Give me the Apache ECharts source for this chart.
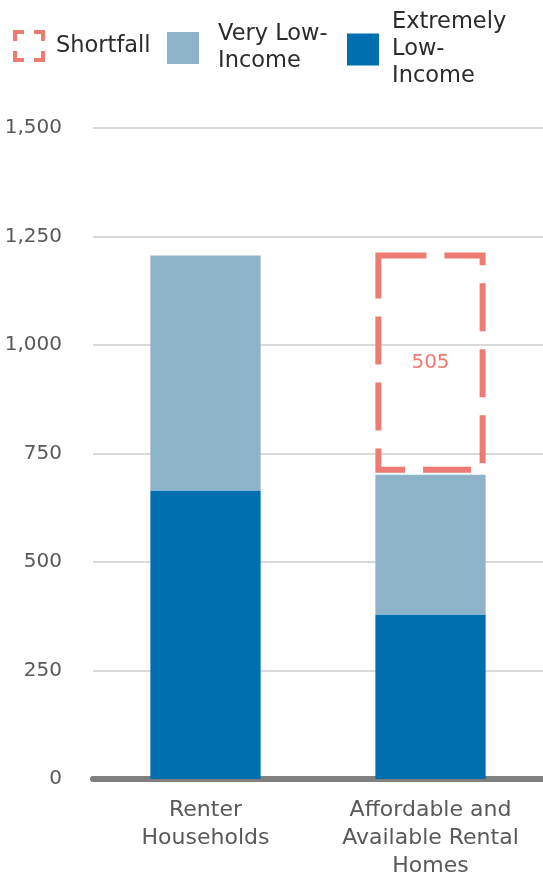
<!DOCTYPE html>
<html><head><meta charset="utf-8">
<script src="https://cdn.jsdelivr.net/npm/echarts@6/dist/echarts.min.js"></script>
<style>html,body{margin:0;padding:0;background:#fff}#c{width:543px;height:876px}</style>
</head><body><div id="c"></div>
<script>
const categories = ['Renter\nHouseholds', 'Affordable and\nAvailable Rental\nHomes'];
const extremelyLow = [665, 379];
const veryLow = [541, 322];
const shortfall = 505;
const shortfallLabel = '505';
const yTicks = [0, 250, 500, 750, 1000, 1250, 1500];

const FONT = 'DejaVu Sans';
const RED = '#ee7b72';
const shortStart = extremelyLow[1] + veryLow[1];
const shortEnd = shortStart + shortfall;

const chart = echarts.init(document.getElementById('c'), null, {renderer: 'canvas'});
const bracketIcon = 'path://M0,0H11V4H4V11H0Z M21,0H32V11H28V4H21Z M32,21V32H21V28H28V21Z M0,21H4V28H11V32H0Z';

function lt(padLeft) {
  return {fontFamily: FONT, fontSize: 22.5, color: '#2b2b2b', lineHeight: 27, padding: [0, 0, 0, padLeft]};
}
chart.setOption({
  animation: false,
  textStyle: {fontFamily: FONT},
  legend: [
    {left: 13, top: 30, padding: 0, itemWidth: 32, itemHeight: 32, textStyle: lt(6),
     data: [{name: 'Shortfall', icon: bracketIcon, itemStyle: {color: RED, borderWidth: 0}}]},
    {left: 167, top: 21, padding: 0, itemWidth: 32, itemHeight: 32, textStyle: lt(14),
     data: [{name: 'Very Low-\nIncome', icon: 'rect'}]},
    {left: 347, top: 9, padding: 0, itemWidth: 32, itemHeight: 32, textStyle: lt(8),
     data: [{name: 'Extremely\nLow-\nIncome', icon: 'rect'}]}
  ],
  grid: {left: 93, right: 0, top: 128, bottom: 97, containLabel: false, outerBoundsMode: 'none'},
  xAxis: {
    type: 'category', data: categories,
    axisLine: {lineStyle: {color: '#7f7f7f', width: 6}},
    axisTick: {show: false},
    axisLabel: {interval: 0, hideOverlap: false, fontFamily: FONT, fontSize: 22, color: '#595959',
      lineHeight: 28, margin: 17, align: 'center'}
  },
  yAxis: {
    type: 'value', min: 0, max: 1500, interval: 250,
    axisLine: {show: false}, axisTick: {show: false},
    splitLine: {lineStyle: {color: '#d9d9d9', width: 2}},
    axisLabel: {fontFamily: FONT, fontSize: 20, color: '#595959', margin: 31,
      formatter: v => v.toLocaleString('en-US')}
  },
  series: [
    {name: 'Extremely\nLow-\nIncome', type: 'bar', stack: 'a', barWidth: '49%', data: extremelyLow,
     itemStyle: {color: '#006fb0'}},
    {name: 'Very Low-\nIncome', type: 'bar', stack: 'a', barWidth: '49%', data: veryLow,
     itemStyle: {color: '#8db3c9'}},
    {name: 'Shortfall', type: 'custom', itemStyle: {color: RED},
     data: [[1, shortStart, shortEnd, shortfallLabel]],
     renderItem: function (params, api) {
       const top = api.coord([api.value(0), api.value(2)]);
       const bot = api.coord([api.value(0), api.value(1)]);
       const w = api.size([1, 0])[0] * 0.49;
       const lw = 6;
       const x = top[0] - w / 2 + lw / 2;
       const y = top[1];
       const h = bot[1] - 5 - y;
       return {
         type: 'group',
         children: [
           {type: 'rect', shape: {x: x, y: y, width: w - lw, height: h},
            style: {fill: 'transparent', stroke: RED, lineWidth: lw, lineDash: [48, 18]}},
           {type: 'text', x: top[0], y: y + h / 2,
            style: {text: api.value(3), fill: RED, fontFamily: FONT, fontSize: 20,
                    align: 'center', verticalAlign: 'middle'}}
         ]
       };
     }}
  ]
});
</script></body></html>
